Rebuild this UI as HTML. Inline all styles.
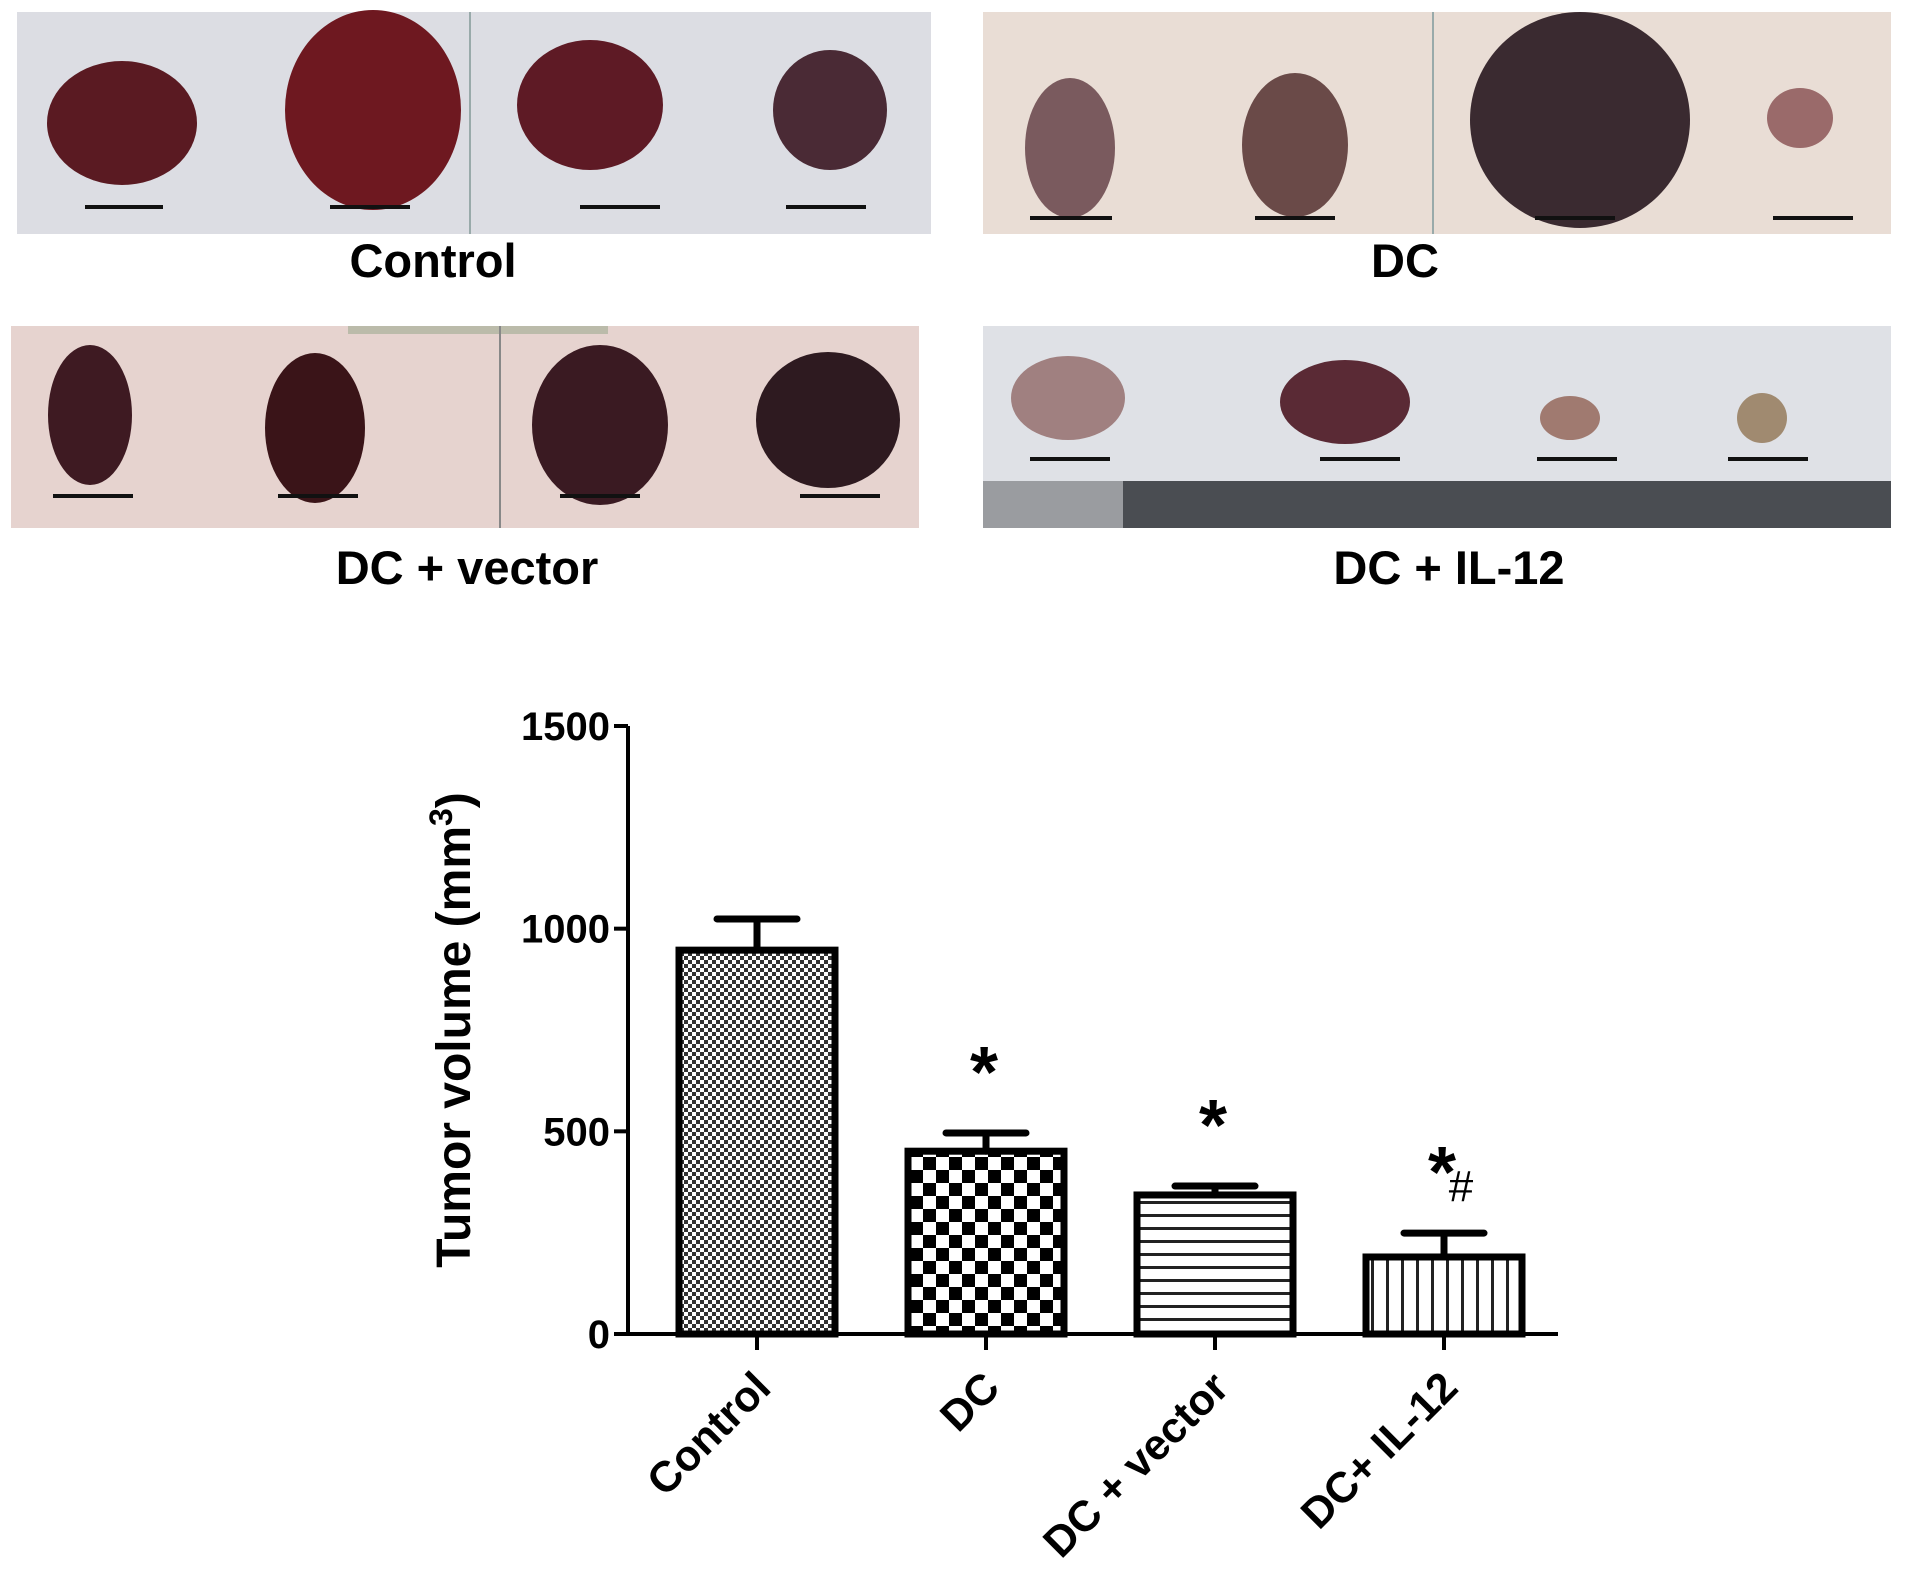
<!DOCTYPE html>
<html><head><meta charset="utf-8"><style>
body{margin:0;background:#fff;width:1913px;height:1578px;overflow:hidden;font-family:"Liberation Sans",sans-serif}
svg{display:block}
</style></head><body>
<svg id="fig" width="1913" height="1578" viewBox="0 0 1913 1578" xmlns="http://www.w3.org/2000/svg">
<defs>
<pattern id="pDots" width="8" height="8" patternUnits="userSpaceOnUse"><rect width="8" height="8" fill="#fff"/><rect width="4" height="4" fill="#333"/><rect x="4" y="4" width="4" height="4" fill="#333"/></pattern>
<pattern id="pChk" width="26" height="26" patternUnits="userSpaceOnUse"><rect width="26" height="26" fill="#fff"/><rect width="13" height="13" fill="#000"/><rect x="13" y="13" width="13" height="13" fill="#000"/></pattern>
<pattern id="pH" width="10" height="13" patternUnits="userSpaceOnUse"><rect width="10" height="13" fill="#fff"/><rect y="5" width="10" height="3" fill="#222"/></pattern>
<pattern id="pV" width="15" height="10" patternUnits="userSpaceOnUse"><rect width="15" height="10" fill="#fff"/><rect x="6" width="3" height="10" fill="#222"/></pattern>
</defs>

<g>
<rect x="17" y="12" width="914" height="222" fill="#dcdde3"/>
<line x1="470" y1="12" x2="470" y2="234" stroke="#9aa" stroke-width="2"/>
<ellipse cx="122" cy="123" rx="75" ry="62" fill="#5a1a22"/>
<ellipse cx="373" cy="110" rx="88" ry="100" fill="#6e1820"/>
<ellipse cx="590" cy="105" rx="73" ry="65" fill="#5e1a25"/>
<ellipse cx="830" cy="110" rx="57" ry="60" fill="#4a2a35"/>
<g stroke="#111" stroke-width="4"><line x1="85" y1="207" x2="163" y2="207"/><line x1="330" y1="207" x2="410" y2="207"/><line x1="580" y1="207" x2="660" y2="207"/><line x1="786" y1="207" x2="866" y2="207"/></g>
</g>
<g>
<rect x="983" y="12" width="908" height="222" fill="#e9ddd5"/>
<line x1="1433" y1="12" x2="1433" y2="234" stroke="#9aa" stroke-width="2"/>
<ellipse cx="1070" cy="148" rx="45" ry="70" fill="#7a5a5e"/>
<ellipse cx="1295" cy="145" rx="53" ry="72" fill="#6a4a48"/>
<ellipse cx="1580" cy="120" rx="110" ry="108" fill="#3a2a30"/>
<ellipse cx="1800" cy="118" rx="33" ry="30" fill="#9a6a6a"/>
<g stroke="#111" stroke-width="4"><line x1="1030" y1="218" x2="1112" y2="218"/><line x1="1255" y1="218" x2="1335" y2="218"/><line x1="1535" y1="218" x2="1615" y2="218"/><line x1="1773" y1="218" x2="1853" y2="218"/></g>
</g>
<g>
<rect x="11" y="326" width="908" height="202" fill="#e6d3cf"/>
<rect x="348" y="326" width="260" height="8" fill="#bba"/>
<line x1="500" y1="326" x2="500" y2="528" stroke="#888" stroke-width="2"/>
<ellipse cx="90" cy="415" rx="42" ry="70" fill="#3e1a22"/>
<ellipse cx="315" cy="428" rx="50" ry="75" fill="#3a1418"/>
<ellipse cx="600" cy="425" rx="68" ry="80" fill="#3a1a22"/>
<ellipse cx="828" cy="420" rx="72" ry="68" fill="#2e1a20"/>
<g stroke="#111" stroke-width="4"><line x1="53" y1="496" x2="133" y2="496"/><line x1="278" y1="496" x2="358" y2="496"/><line x1="560" y1="496" x2="640" y2="496"/><line x1="800" y1="496" x2="880" y2="496"/></g>
</g>
<g>
<rect x="983" y="326" width="908" height="202" fill="#dfe1e6"/>
<rect x="983" y="481" width="908" height="47" fill="#4a4d52"/>
<rect x="983" y="481" width="140" height="47" fill="#9a9ca0"/>
<ellipse cx="1068" cy="398" rx="57" ry="42" fill="#a08080"/>
<ellipse cx="1345" cy="402" rx="65" ry="42" fill="#5a2a35"/>
<ellipse cx="1570" cy="418" rx="30" ry="22" fill="#a07a70"/>
<ellipse cx="1762" cy="418" rx="25" ry="25" fill="#a08a70"/>
<g stroke="#111" stroke-width="4"><line x1="1030" y1="459" x2="1110" y2="459"/><line x1="1320" y1="459" x2="1400" y2="459"/><line x1="1537" y1="459" x2="1617" y2="459"/><line x1="1728" y1="459" x2="1808" y2="459"/></g>
</g>
<g font-weight="bold" font-size="47" text-anchor="middle" fill="#000">
<text x="433" y="277">Control</text>
<text x="1405" y="277">DC</text>
<text x="467" y="584">DC + vector</text>
<text x="1449" y="584">DC + IL-12</text>
</g>

<g id="chart"></g>
</svg>
<script>
const categories = ["Control", "DC", "DC + vector", "DC+ IL-12"];
const means = [947, 451, 343, 190];
const errors = [77, 45, 22, 59];
const marks = ["", "*", "*", "*#"];
const yTicks = [0, 500, 1000, 1500];

const NS = "http://www.w3.org/2000/svg";
const g = document.getElementById("chart");
const X0 = 628, X1 = 1558, Y0 = 1334, Y1 = 726, YMAX = 1500;
const y = v => Y0 - (v / YMAX) * (Y0 - Y1);
const centers0 = 757, step = 229, barW = 156;
const xc = i => centers0 + i * step;
const fills = ["url(#pDots)", "url(#pChk)", "url(#pH)", "url(#pV)"];
function mk(tag, attrs) { const e = document.createElementNS(NS, tag); for (const k in attrs) e.setAttribute(k, attrs[k]); g.appendChild(e); return e; }

categories.forEach((c, i) => {
  const cx = xc(i);
  const bar = mk("rect", {x: cx - barW/2, y: y(means[i]), width: barW, height: Y0 - y(means[i]), fill: fills[i], stroke: "#000", "stroke-width": 7});
  
  
  const eb = mk("path", {d: `M${cx} ${y(means[i])} V${y(means[i]+errors[i])} M${cx-40} ${y(means[i]+errors[i])} H${cx+40}`, stroke: "#000", "stroke-width": 7, fill: "none", "stroke-linecap": "round"});
  
  
  const tk = mk("line", {x1: cx, y1: Y0, x2: cx, y2: Y0 + 16, stroke: "#000", "stroke-width": 4});
  
  
  const lb = mk("text", {x: 0, y: 0, transform: `translate(${cx + 16},${Y0 + 56}) rotate(-45)`, "text-anchor": "end", "font-size": 43, "font-weight": "bold"});
  lb.textContent = c;
  
  
  const m = marks[i];
  const top = y(means[i] + errors[i]);
  if (m.includes("*")) {
    const st = mk("text", {x: cx - 2, y: top - 36, "text-anchor": "middle", "font-size": 72, "font-weight": "bold"});
    st.textContent = "*";
    
    
  }
  if (m.includes("#")) {
    const h = mk("text", {x: cx + 17, y: top - 32, "text-anchor": "middle", "font-size": 44});
    h.textContent = "#";
    
    
  }
});

const ax = mk("path", {d: `M${X0} ${Y1} V${Y0} H${X1}`, stroke: "#000", "stroke-width": 4, fill: "none"});


yTicks.forEach(t => {
  const l = mk("line", {x1: X0 - 14, y1: y(t), x2: X0, y2: y(t), stroke: "#000", "stroke-width": 4});
  
  
  const tx = mk("text", {x: X0 - 18, y: y(t) + 14, "text-anchor": "end", "font-size": 40, "font-weight": "bold"});
  tx.textContent = t;
  
  
});
const yt = mk("text", {x: 0, y: 0, transform: `translate(470,1030) rotate(-90)`, "text-anchor": "middle", "font-size": 48, "font-weight": "bold"});
yt.innerHTML = 'Tumor volume (mm<tspan dy="-18" font-size="32">3</tspan><tspan dy="18">)</tspan>';


</script>
</body></html>
